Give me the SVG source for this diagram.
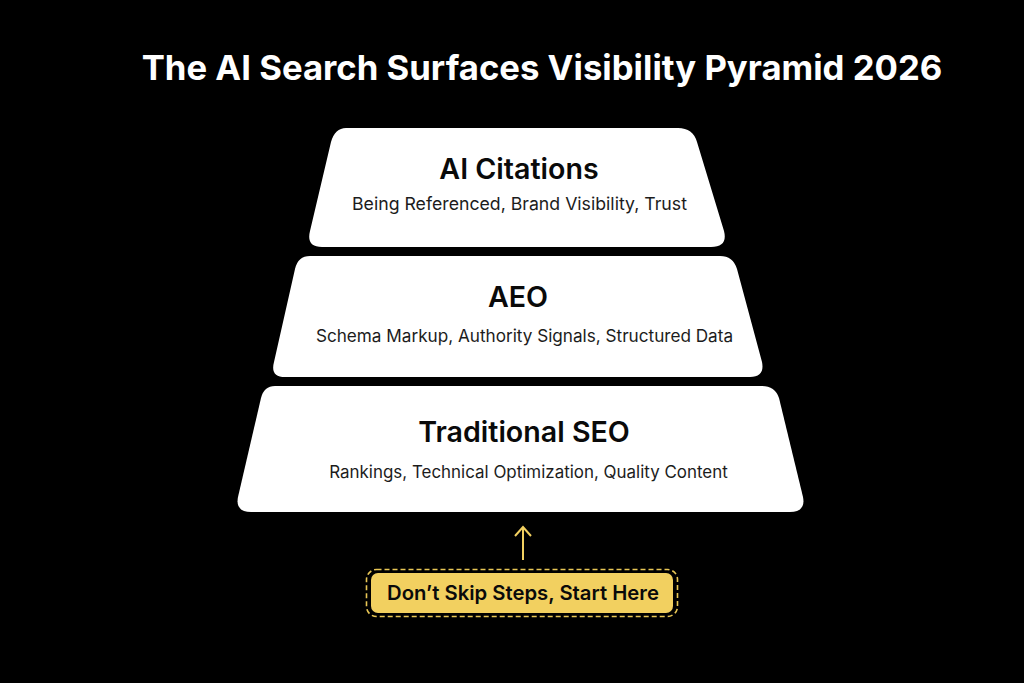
<svg xmlns="http://www.w3.org/2000/svg" width="1024" height="683" viewBox="0 0 1024 683">
<style>
text{font-family:Inter,"Liberation Sans",sans-serif;text-anchor:middle}
.tier{fill:#fff}
.h{font-size:28.6px;font-weight:600;fill:#0a0a0a}
.s{font-weight:400;fill:#1c1c1c}
</style>
<rect width="1024" height="683" fill="#000"/>
<text id="title" x="542" y="80" font-size="34.700" font-weight="700" fill="#fff">The AI Search Surfaces Visibility Pyramid 2026</text>
<g id="tier-citations">
<path class="tier" d="M346 128H678Q693 128 697 142L724 231Q728 247 711 247H322Q306 247 310 231L331 142Q335 128 346 128Z"/>
<text class="h" x="519" y="179">AI Citations</text>
<text class="s" font-size="17.700" x="519.500" y="210">Being Referenced, Brand Visibility, Trust</text>
</g>
<g id="tier-aeo">
<path class="tier" d="M310 256H720Q733 256 737 269L762 362Q765 377 750 377H285Q270 377 274 362L295 269Q298 256 310 256Z"/>
<text class="h" x="518" y="307">AEO</text>
<text class="s" font-size="17.150" x="524.500" y="342">Schema Markup, Authority Signals, Structured Data</text>
</g>
<g id="tier-seo">
<path class="tier" d="M275 386H762Q775 386 779 398L803 497Q806 512 790 512H251Q235 512 238 497L261 398Q264 386 275 386Z"/>
<text class="h" x="524" y="442">Traditional SEO</text>
<text class="s" font-size="16.950" x="528.500" y="478">Rankings, Technical Optimization, Quality Content</text>
</g>
<g id="connectors">
<path d="M523 560V528M515 536L523 527L531 536" fill="none" stroke="#f2d060" stroke-width="2"/>
</g>
<g id="start-here">
<rect x="366.500" y="569.500" width="311" height="47" rx="10" fill="none" stroke="#e8c655" stroke-width="1.600" stroke-dasharray="5 3"/>
<rect x="371" y="573" width="302" height="40" rx="7" fill="#f2d060"/>
<text x="523" y="600" font-size="20.300" font-weight="600" fill="#0a0a0a">Don’t Skip Steps, Start Here</text>
</g>
</svg>
